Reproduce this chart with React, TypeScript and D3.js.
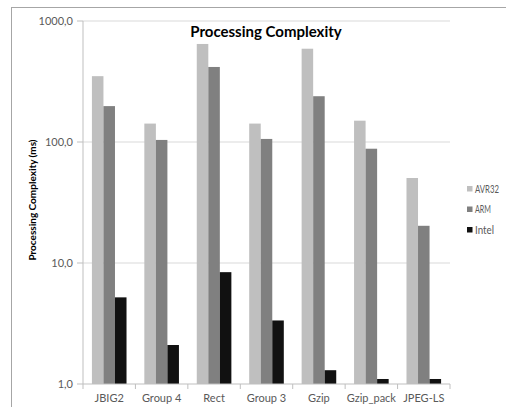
import React from "react";
import * as d3 from "d3";

const categories = ["JBIG2", "Group 4", "Rect", "Group 3", "Gzip", "Gzip_pack", "JPEG-LS"];
const seriesNames = ["AVR32", "ARM", "Intel"];
const avr32 = [350, 142, 646, 142, 590, 150, 50.4];
const arm = [198, 104, 417, 106, 239, 88, 20.3];
const intel = [5.2, 2.1, 8.4, 3.35, 1.3, 1.1, 1.1];
const colors = ["#bfbfbf", "#808080", "#111111"];
const yTicks = [1, 10, 100, 1000];

const font = "Lato, 'Open Sans', sans-serif";

export default function App() {
  const W = 506, H = 407;
  const left = 83, right = 450, top = 21, bottom = 384;
  const x = d3.scaleBand().domain(categories).range([left, right]).paddingInner(0.34).paddingOuter(0.17);
  const xs = d3.scaleBand().domain(seriesNames).range([0, x.bandwidth()]);
  const y = d3.scaleLog().domain([1, 1000]).range([bottom, top]);
  const data = [avr32, arm, intel];
  const fmt = (v: number) => v.toFixed(1).replace(".", ",");
  const step = (right - left) / categories.length;
  const legendLen = [24, 16, 19];

  return (
    <svg width={W} height={H} style={{ position: "absolute", left: 0, top: 0, background: "#fff" }}>
      <rect x={11.5} y={7.5} width={600} height={500} fill="#fff" stroke="#a6a6a6" />
      {yTicks.slice(1).map((t) => (
        <line key={t} x1={left} x2={right} y1={y(t)} y2={y(t)} stroke="#d9d9d9" />
      ))}
      {yTicks.map((t) => (
        <g key={"t" + t}>
          <line x1={left - 6} x2={left} y1={y(t)} y2={y(t)} stroke="#bfbfbf" />
          <text x={left - 10} y={y(t)} dy="0.35em" textAnchor="end" fontFamily={font} fontSize={11} fill="#595959">
            {fmt(t)}
          </text>
        </g>
      ))}
      {data.map((vals, si) =>
        vals.map((v, ci) => (
          <rect
            key={si + "-" + ci}
            x={(x(categories[ci]) as number) + (xs(seriesNames[si]) as number)}
            y={y(v)}
            width={xs.bandwidth()}
            height={bottom - y(v)}
            fill={colors[si]}
          />
        ))
      )}
      <line x1={left} x2={left} y1={top} y2={bottom} stroke="#bfbfbf" />
      <line x1={left} x2={right} y1={bottom} y2={bottom} stroke="#bfbfbf" />
      {d3.range(categories.length + 1).map((i) => (
        <line key={"xt" + i} x1={left + i * step} x2={left + i * step} y1={bottom} y2={bottom + 5} stroke="#bfbfbf" />
      ))}
      {categories.map((c) => (
        <text key={c} x={(x(c) as number) + x.bandwidth() / 2} y={402} textAnchor="middle" fontFamily={font} fontSize={11} fill="#595959">
          {c}
        </text>
      ))}
      <text x={266} y={37} textAnchor="middle" fontFamily={font} fontSize={15} fontWeight="bold" fill="#000">
        Processing Complexity
      </text>
      <text transform={`translate(36,200) rotate(-90)`} textAnchor="middle" fontFamily={font} fontSize={10} fontWeight="bold" fill="#000">
        Processing Complexity (ms)
      </text>
      {seriesNames.map((s, i) => (
        <g key={s} transform={`translate(467,${189 + i * 20.5})`}>
          <rect x={0} y={-3} width={5.5} height={5.5} fill={colors[i]} />
          <text x={8} y={0} dy="0.35em" fontFamily={font} fontSize={10.5} fill="#595959" textLength={legendLen[i]} lengthAdjust="spacingAndGlyphs">
            {s}
          </text>
        </g>
      ))}
    </svg>
  );
}
